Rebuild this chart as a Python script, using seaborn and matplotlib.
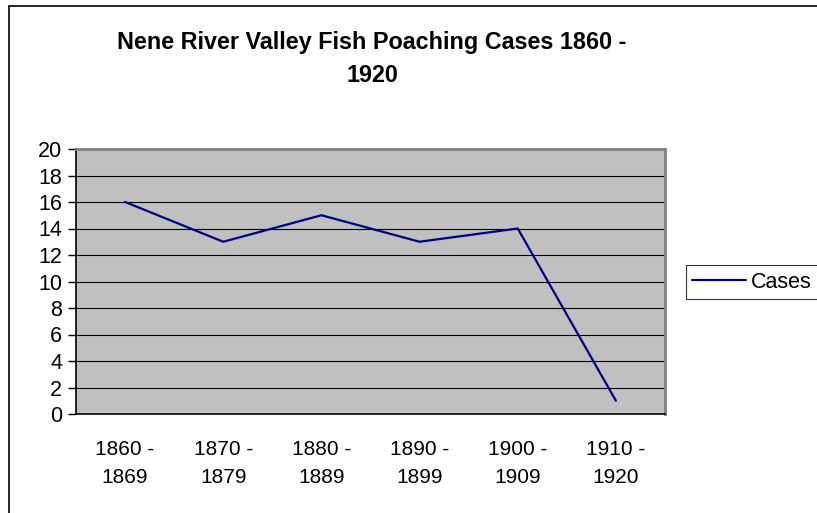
import numpy as np
import matplotlib
matplotlib.use("Agg")
import matplotlib.pyplot as plt
from matplotlib.patches import Rectangle
import seaborn as sns
import pandas as pd

# data
periods = ["1860 -\n1869", "1870 -\n1879", "1880 -\n1889", "1890 -\n1899", "1900 -\n1909", "1910 -\n1920"]
cases = [16, 13, 15, 13, 14, 1]
y_ticks = list(range(0, 21, 2))

df = pd.DataFrame({"period": periods, "Cases": cases})

sns.set_style("white")
plt.rcParams["font.family"] = ["Liberation Sans", "DejaVu Sans"]
plt.rcParams["text.color"] = "black"
plt.rcParams["xtick.color"] = "black"
plt.rcParams["ytick.color"] = "black"

fig = plt.figure(figsize=(8.17, 5.13), dpi=100)
W, H = 817, 513
ax = fig.add_axes([76 / W, 1 - 414 / H, (665 - 76) / W, (414 - 149) / H])
ax.set_facecolor("#C0C0C0")

sns.lineplot(data=df, x="period", y="Cases", ax=ax, color="#000080", linewidth=1.6,
             sort=False, label="Cases", legend=False)

ax.set_xlim(-0.5, len(periods) - 0.5)
ax.set_ylim(0, 20)
ax.set_yticks(y_ticks)
ax.set_yticklabels([str(v) for v in y_ticks], fontsize=15.5)
ax.yaxis.grid(True, color="black", linewidth=0.8)
ax.set_axisbelow(True)

ax.set_xticks(range(len(periods)))
ax.set_xticklabels(periods, fontsize=15, linespacing=1.55)
ax.set_xticks(np.arange(-0.5, len(periods), 1.0), minor=True)
ax.tick_params(axis="x", which="major", length=0, pad=19)
ax.tick_params(axis="x", which="minor", length=6, width=1, color="black", direction="out")
ax.tick_params(axis="y", length=6, width=1, color="black", direction="out", pad=4, left=True)
ax.set_xlabel("")
ax.set_ylabel("")

for side in ["left", "bottom"]:
    ax.spines[side].set_color("black")
    ax.spines[side].set_linewidth(1.2)
for side in ["top", "right"]:
    ax.spines[side].set_color("#808080")
    ax.spines[side].set_linewidth(2)

fig.text(372 / W, 1 - 59 / H, "Nene River Valley Fish Poaching Cases 1860 -\n1920",
         ha="center", va="center", fontsize=16.8, fontweight="bold", linespacing=1.55)

handles, labels = ax.get_legend_handles_labels()
leg = fig.legend(handles, labels, loc="center left", bbox_to_anchor=(686 / W, 1 - 282 / H),
                 frameon=True, fancybox=False, shadow=False, fontsize=15.5,
                 handlelength=2.5, handletextpad=0.2, borderpad=0.3, borderaxespad=0)
leg.get_frame().set_edgecolor("black")
leg.get_frame().set_linewidth(0.8)

# outer chart border (right and bottom run off the image)
fig.patches.append(Rectangle((9 / W, -0.1), 1.2, 1 - 6 / H + 0.1, transform=fig.transFigure,
                             fill=False, edgecolor="black", linewidth=1.2))

fig.savefig("out.png", dpi=100)
